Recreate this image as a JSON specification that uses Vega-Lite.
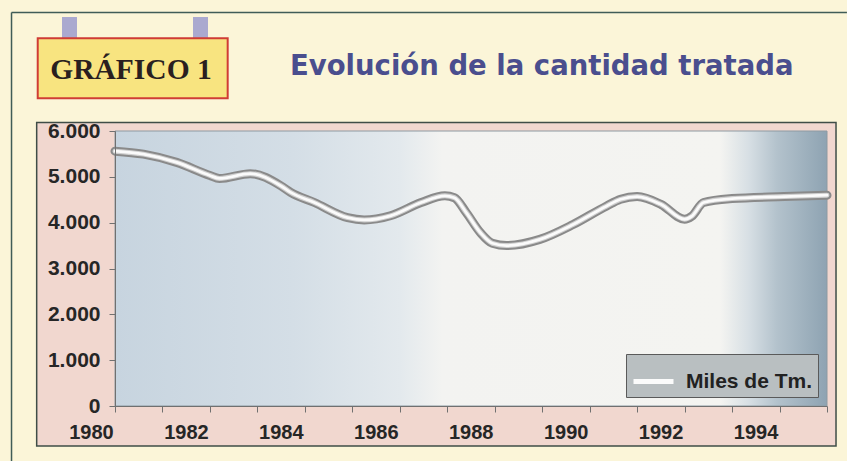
{
  "$schema": "https://vega.github.io/schema/vega-lite/v6.json",
  "width": 712,
  "height": 275,
  "autosize": {"type": "none"},
  "padding": {"left": 115, "top": 131, "right": 20, "bottom": 55},
  "background": "#fbf5d8",
  "title": {
    "text": "Evolución de la cantidad tratada",
    "anchor": "start",
    "frame": "group",
    "dx": 175,
    "dy": 91,
    "offset": 0,
    "baseline": "alphabetic",
    "font": "DejaVu Sans",
    "fontSize": 27.5,
    "fontWeight": "bold",
    "color": "#4a4e8e"
  },
  "config": {
    "view": {"stroke": null},
    "axis": {
      "labelFont": "Liberation Sans",
      "labelFontSize": 20,
      "labelFontWeight": "bold",
      "labelColor": "#262626",
      "tickColor": "#707070",
      "domainColor": "#707070",
      "tickSize": 6,
      "grid": false,
      "title": null
    },
    "legend": {
      "orient": "bottom-right",
      "offset": 9,
      "fillColor": "#b9bfc1",
      "strokeColor": "#5a5a5a",
      "padding": 5,
      "symbolType": "stroke",
      "symbolSize": 1600,
      "symbolStrokeWidth": 5,
      "labelFont": "Liberation Sans",
      "labelFontSize": 21,
      "labelFontWeight": "bold",
      "labelColor": "#222222",
      "labelOffset": 10
    }
  },
  "datasets": {
    "serie": [
      {"anio": 1980.0, "miles_tm": 5560, "serie": "Miles de Tm."},
      {"anio": 1980.6, "miles_tm": 5495, "serie": "Miles de Tm."},
      {"anio": 1981.3, "miles_tm": 5315, "serie": "Miles de Tm."},
      {"anio": 1982.0, "miles_tm": 5030, "serie": "Miles de Tm."},
      {"anio": 1982.2, "miles_tm": 4965, "serie": "Miles de Tm."},
      {"anio": 1982.85, "miles_tm": 5070, "serie": "Miles de Tm."},
      {"anio": 1983.5, "miles_tm": 4800, "serie": "Miles de Tm."},
      {"anio": 1983.7, "miles_tm": 4660, "serie": "Miles de Tm."},
      {"anio": 1984.2, "miles_tm": 4440, "serie": "Miles de Tm."},
      {"anio": 1984.9, "miles_tm": 4110, "serie": "Miles de Tm."},
      {"anio": 1985.25, "miles_tm": 4060, "serie": "Miles de Tm."},
      {"anio": 1985.8, "miles_tm": 4150, "serie": "Miles de Tm."},
      {"anio": 1986.45, "miles_tm": 4440, "serie": "Miles de Tm."},
      {"anio": 1986.95, "miles_tm": 4585, "serie": "Miles de Tm."},
      {"anio": 1987.15, "miles_tm": 4545, "serie": "Miles de Tm."},
      {"anio": 1987.4, "miles_tm": 4220, "serie": "Miles de Tm."},
      {"anio": 1987.7, "miles_tm": 3780, "serie": "Miles de Tm."},
      {"anio": 1987.95, "miles_tm": 3550, "serie": "Miles de Tm."},
      {"anio": 1988.25, "miles_tm": 3500, "serie": "Miles de Tm."},
      {"anio": 1988.95, "miles_tm": 3635, "serie": "Miles de Tm."},
      {"anio": 1989.65, "miles_tm": 3960, "serie": "Miles de Tm."},
      {"anio": 1990.35, "miles_tm": 4360, "serie": "Miles de Tm."},
      {"anio": 1990.65, "miles_tm": 4510, "serie": "Miles de Tm."},
      {"anio": 1991.0, "miles_tm": 4570, "serie": "Miles de Tm."},
      {"anio": 1991.5, "miles_tm": 4400, "serie": "Miles de Tm."},
      {"anio": 1992.0, "miles_tm": 4075, "serie": "Miles de Tm."},
      {"anio": 1992.15, "miles_tm": 4140, "serie": "Miles de Tm."},
      {"anio": 1992.4, "miles_tm": 4440, "serie": "Miles de Tm."},
      {"anio": 1993.0, "miles_tm": 4525, "serie": "Miles de Tm."},
      {"anio": 1994.1, "miles_tm": 4570, "serie": "Miles de Tm."},
      {"anio": 1995.0, "miles_tm": 4600, "serie": "Miles de Tm."}
    ],
    "uno": [{}]
  },
  "layer": [
    {
      "data": {"name": "uno"},
      "mark": {"type": "rule", "color": "#3f5c57", "strokeWidth": 1.5},
      "encoding": {
        "x": {
          "datum": 1977.82,
          "type": "quantitative",
          "scale": {"domain": [1980, 1995], "nice": false, "zero": false},
          "axis": {
            "zindex": 2,
            "values": [1980, 1981, 1982, 1983, 1984, 1985, 1986, 1987, 1988, 1989, 1990, 1991, 1992, 1993, 1994, 1995],
            "format": "d",
            "labelExpr": "datum.value % 2 === 0 && datum.value < 1995 ? datum.label : ''",
            "labelOffset": -24,
            "labelPadding": 10,
            "labelFlush": false,
            "labelOverlap": false,
            "labelBound": false
          }
        },
        "x2": {"datum": 1995.42},
        "y": {
          "datum": 8585,
          "type": "quantitative",
          "scale": {"domain": [0, 6000], "nice": false},
          "axis": {
            "zindex": 2,
            "values": [0, 1000, 2000, 3000, 4000, 5000, 6000],
            "format": ",d",
            "labelExpr": "replace(datum.label, ',', '.')",
            "labelFontSize": 21,
            "labelPadding": 9,
            "labelOverlap": false
          }
        }
      }
    },
    {
      "data": {"name": "uno"},
      "mark": {"type": "rule", "color": "#3f5c57", "strokeWidth": 1.5},
      "encoding": {
        "x": {"datum": 1977.82, "type": "quantitative"},
        "y": {"datum": 8585, "type": "quantitative"},
        "y2": {"datum": -1200}
      }
    },
    {
      "data": {"name": "uno"},
      "mark": {"type": "rect", "color": "#aaa9cf"},
      "encoding": {
        "x": {"datum": 1978.883, "type": "quantitative"},
        "x2": {"datum": 1979.199},
        "y": {"datum": 8487, "type": "quantitative"},
        "y2": {"datum": 8029}
      }
    },
    {
      "data": {"name": "uno"},
      "mark": {"type": "rect", "color": "#aaa9cf"},
      "encoding": {
        "x": {"datum": 1981.643, "type": "quantitative"},
        "x2": {"datum": 1981.959},
        "y": {"datum": 8487, "type": "quantitative"},
        "y2": {"datum": 8029}
      }
    },
    {
      "data": {"name": "uno"},
      "mark": {"type": "rect", "fill": "#f8e480", "stroke": "#d03c34", "strokeWidth": 2},
      "encoding": {
        "x": {"datum": 1978.372, "type": "quantitative"},
        "x2": {"datum": 1982.374},
        "y": {"datum": 8023, "type": "quantitative"},
        "y2": {"datum": 6713}
      }
    },
    {
      "data": {"name": "uno"},
      "mark": {"type": "text", "text": "GRÁFICO 1", "font": "Liberation Serif", "fontSize": 29.5, "fontWeight": "bold", "color": "#2a1f1f", "align": "center", "baseline": "alphabetic"},
      "encoding": {
        "x": {"datum": 1980.337, "type": "quantitative"},
        "y": {"datum": 7135, "type": "quantitative"}
      }
    },
    {
      "data": {"name": "uno"},
      "mark": {"type": "rect", "fill": "#f1d7cf", "stroke": "#3f4d47", "strokeWidth": 1.5},
      "encoding": {
        "x": {"datum": 1978.35, "type": "quantitative"},
        "x2": {"datum": 1995.19},
        "y": {"datum": 6185, "type": "quantitative"},
        "y2": {"datum": -873}
      }
    },
    {
      "data": {"name": "uno"},
      "mark": {
        "type": "rect",
        "stroke": "#8d9aa2",
        "strokeWidth": 1,
        "fill": {
          "gradient": "linear",
          "x1": 0, "x2": 1, "y1": 0, "y2": 0,
          "stops": [
            {"offset": 0, "color": "#c7d4df"},
            {"offset": 0.25, "color": "#d4dee6"},
            {"offset": 0.4, "color": "#e3e9ed"},
            {"offset": 0.46, "color": "#f3f3f1"},
            {"offset": 0.85, "color": "#f4f4f1"},
            {"offset": 0.89, "color": "#d7dfe4"},
            {"offset": 0.93, "color": "#b3c2cc"},
            {"offset": 1, "color": "#8ea3b2"}
          ]
        }
      },
      "encoding": {
        "x": {"datum": 1980, "type": "quantitative"},
        "x2": {"datum": 1995},
        "y": {"datum": 6000, "type": "quantitative"},
        "y2": {"datum": 0}
      }
    },
    {
      "data": {"name": "serie"},
      "mark": {"type": "line", "interpolate": "monotone", "color": "#8a8a8a", "strokeWidth": 9, "strokeCap": "round", "strokeJoin": "round"},
      "encoding": {
        "x": {"field": "anio", "type": "quantitative"},
        "y": {"field": "miles_tm", "type": "quantitative"}
      }
    },
    {
      "data": {"name": "serie"},
      "mark": {"type": "line", "interpolate": "monotone", "color": "#cfcfcf", "strokeWidth": 5, "strokeCap": "round", "strokeJoin": "round"},
      "encoding": {
        "x": {"field": "anio", "type": "quantitative"},
        "y": {"field": "miles_tm", "type": "quantitative"}
      }
    },
    {
      "data": {"name": "serie"},
      "mark": {"type": "line", "interpolate": "monotone", "strokeWidth": 2.8, "strokeCap": "round", "strokeJoin": "round"},
      "encoding": {
        "x": {"field": "anio", "type": "quantitative"},
        "y": {"field": "miles_tm", "type": "quantitative"},
        "color": {
          "field": "serie",
          "type": "nominal",
          "scale": {"range": ["#fbfbfb"]},
          "legend": {"title": null, "symbolStrokeColor": "#ececec"}
        }
      }
    }
  ]
}
